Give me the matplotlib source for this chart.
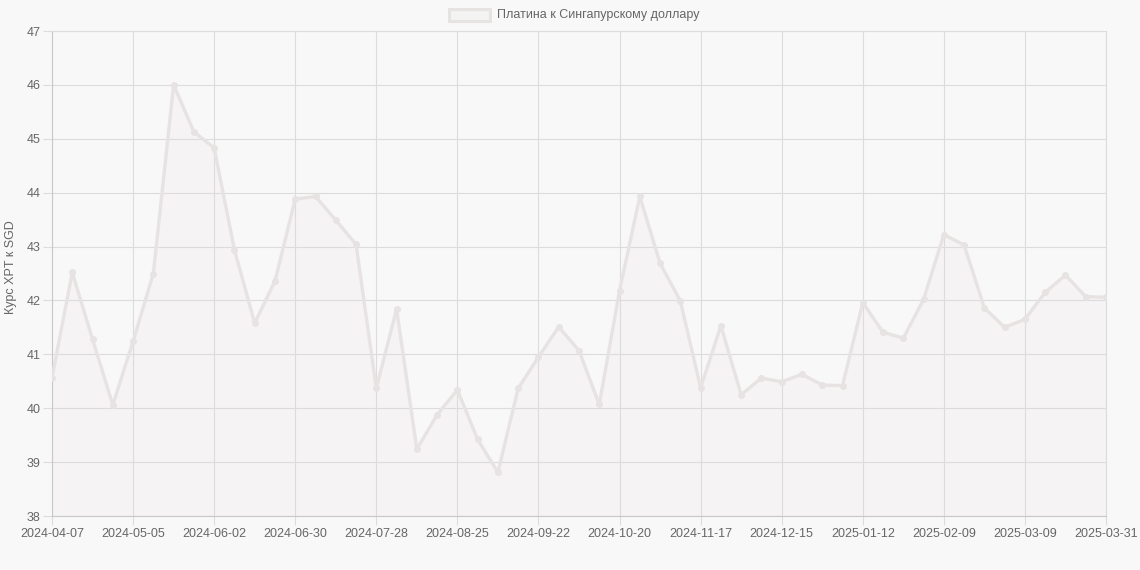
import matplotlib
matplotlib.use("Agg")
import matplotlib.pyplot as plt
from matplotlib.patches import Rectangle

dates = [
    "2024-04-07", "2024-04-14", "2024-04-21", "2024-04-28", "2024-05-05", "2024-05-12",
    "2024-05-19", "2024-05-26", "2024-06-02", "2024-06-09", "2024-06-16", "2024-06-23",
    "2024-06-30", "2024-07-07", "2024-07-14", "2024-07-21", "2024-07-28", "2024-08-04",
    "2024-08-11", "2024-08-18", "2024-08-25", "2024-09-01", "2024-09-08", "2024-09-15",
    "2024-09-22", "2024-09-29", "2024-10-06", "2024-10-13", "2024-10-20", "2024-10-27",
    "2024-11-03", "2024-11-10", "2024-11-17", "2024-11-24", "2024-12-01", "2024-12-08",
    "2024-12-15", "2024-12-22", "2024-12-29", "2025-01-05", "2025-01-12", "2025-01-19",
    "2025-01-26", "2025-02-02", "2025-02-09", "2025-02-16", "2025-02-23", "2025-03-02",
    "2025-03-09", "2025-03-16", "2025-03-23", "2025-03-30", "2025-03-31",
]
values = [
    40.57, 42.52, 41.28, 40.06, 41.24, 42.50, 46.00, 45.13, 44.83, 42.94,
    41.58, 42.36, 43.88, 43.93, 43.49, 43.04, 40.37, 41.84, 39.24, 39.88,
    40.34, 39.42, 38.81, 40.37, 40.95, 41.51, 41.07, 40.07, 42.18, 43.93,
    42.69, 41.99, 40.38, 41.53, 40.25, 40.56, 40.49, 40.63, 40.43, 40.42,
    41.96, 41.41, 41.30, 42.02, 43.22, 43.03, 41.86, 41.50, 41.65, 42.15,
    42.47, 42.07, 42.06,
]
tick_idx = [0, 4, 8, 12, 16, 20, 24, 28, 32, 36, 40, 44, 48, 52]
series_label = "Платина к Сингапурскому доллару"
y_label = "Курс XPT к SGD"

plt.rcParams['font.family'] = ['Liberation Sans', 'DejaVu Sans']

bg = '#f8f8f8'
line_c = '#e7e3e3'
fill_c = '#f5f3f4'
grid_c = '#dcdcdc'
text_c = '#666666'

fig = plt.figure(figsize=(11.4, 5.7), dpi=100, facecolor=bg)
ax = fig.add_axes([52/1140, 1-516/570, (1106-52)/1140, (516-31)/570])
ax.set_facecolor(bg)

x = list(range(len(values)))
ax.fill_between(x, values, 38, color=fill_c, zorder=1, linewidth=0)
ax.plot(x, values, color=line_c, linewidth=2.4, marker='o', markersize=4,
        markerfacecolor=line_c, markeredgecolor=line_c, zorder=3)

ax.set_xlim(0, len(values)-1)
ax.set_ylim(38, 47)
ax.set_yticks(range(38, 48))
ax.set_xticks(tick_idx)
ax.set_xticklabels([dates[i] for i in tick_idx])

ax.grid(True, color=grid_c, linewidth=0.8, zorder=0)
for s in ax.spines.values():
    s.set_color(grid_c)
    s.set_linewidth(0.8)
ax.spines['left'].set_color('#c8c8c8')
ax.spines['bottom'].set_color('#c8c8c8')
ax.tick_params(axis='both', colors=grid_c, length=6.5, width=0.8,
               labelcolor=text_c, labelsize=9)
ax.tick_params(axis='x', pad=2)
ax.tick_params(axis='y', pad=2)

fig.text(11/1140, 1-267/570, y_label, rotation=90, ha='center', va='center',
         color=text_c, fontsize=9)

# legend
fig.patches.append(Rectangle((449/1140, 1-21/570), 41/1140, 12/570,
                             transform=fig.transFigure, facecolor='#f4f3f3',
                             edgecolor=line_c, linewidth=2.2))
fig.text(497/1140, 1-15/570, series_label, ha='left', va='center',
         color=text_c, fontsize=9)

fig.savefig("out.png", dpi=100, facecolor=bg)
